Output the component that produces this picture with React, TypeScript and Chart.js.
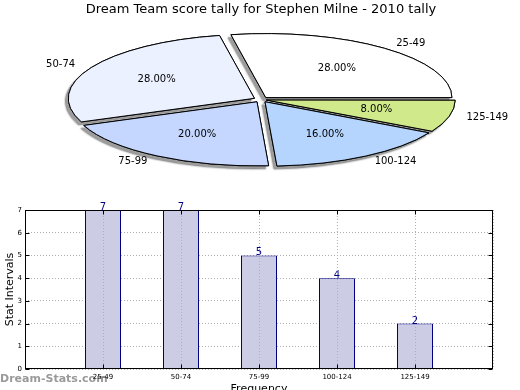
import React, { useEffect, useRef } from 'react';
import { Chart, registerables } from 'chart.js';

Chart.register(...registerables);

// ---- data ----
const chartTitle = 'Dream Team score tally for Stephen Milne - 2010 tally';
const categories = ['25-49', '50-74', '75-99', '100-124', '125-149'];
const counts = [7, 7, 5, 4, 2];
const pieColors = ['#ffffff', '#ebf1fe', '#c5d7fe', '#b5d5fe', '#cfe98b'];
const yTicks = [0, 1, 2, 3, 4, 5, 6, 7];
const xAxisTitle = 'Frequency';
const yAxisTitle = 'Stat Intervals';
const watermark = 'Dream-Stats.com';

const FONT = "'DejaVu Sans', 'Liberation Sans', sans-serif";
const SQUASH = 0.344;
const EXPLODE = 30; // chart.js offset (translation = offset / 4)

const total = counts.reduce((a, b) => a + b, 0);
// chart.js draws clockwise; matplotlib draws counter-clockwise from 3 o'clock
const pieLabels = [...categories].reverse();
const pieValues = [...counts].reverse();
const pieBg = [...pieColors].reverse();
const pieOffsets = [22, EXPLODE, EXPLODE, EXPLODE, EXPLODE];

const ellipsePlugin = {
  id: 'ellipsePie',
  beforeDatasetsDraw(chart: any) {
    const ctx = chart.ctx as any;
    const meta = chart.getDatasetMeta(0);
    const a0 = meta.data[0];
    const cx = a0.x, cy = a0.y;
    ctx.save();
    const base = ctx.getTransform();
    ctx.translate(cx, cy);
    ctx.scale(1, SQUASH);
    ctx.translate(-cx, -cy);
    const proto = CanvasRenderingContext2D.prototype.stroke;
    ctx.stroke = function (...args: any[]) {
      this.save();
      this.setTransform(base);
      proto.apply(this, args);
      this.restore();
    };
    // shadow pass
    ctx.save();
    ctx.shadowColor = 'rgba(40,40,40,0.45)';
    ctx.shadowOffsetX = -3;
    ctx.shadowOffsetY = 3;
    ctx.shadowBlur = 1.5;
    meta.data.forEach((arc: any) => arc.draw(ctx));
    ctx.restore();
  },
  afterDatasetsDraw(chart: any) {
    const ctx = chart.ctx as any;
    delete ctx.stroke;
    ctx.restore();
    const meta = chart.getDatasetMeta(0);
    ctx.save();
    ctx.fillStyle = '#000';
    ctx.font = `10px ${FONT}`;
    ctx.textBaseline = 'middle';
    meta.data.forEach((arc: any, i: number) => {
      const { x, y, startAngle, endAngle, outerRadius } = arc.getProps(
        ['x', 'y', 'startAngle', 'endAngle', 'outerRadius'],
        true
      );
      const mid = (startAngle + endAngle) / 2;
      const off = EXPLODE / 4;
      const c = Math.cos(mid), s = Math.sin(mid);
      const rp = outerRadius * 0.6 + off;
      ctx.textAlign = 'center';
      const pct = ((pieValues[i] / total) * 100).toFixed(2) + '%';
      ctx.fillText(pct, x + rp * c, y + SQUASH * rp * s);
      const rl = outerRadius * 1.1 + off;
      ctx.textAlign = c > 0 ? 'left' : 'right';
      ctx.fillText(pieLabels[i], x + rl * c, y + SQUASH * rl * s);
    });
    ctx.restore();
  },
};

const barExtras = {
  id: 'barExtras',
  beforeDraw(chart: any) {
    const ctx = chart.ctx;
    ctx.save();
    ctx.fillStyle = '#9a9a9a';
    ctx.font = `bold 11px ${FONT}`;
    ctx.textAlign = 'left';
    ctx.textBaseline = 'alphabetic';
    ctx.fillText(watermark, 0, 187);
    ctx.restore();
  },
  afterDatasetsDraw(chart: any) {
    const ctx = chart.ctx;
    const meta = chart.getDatasetMeta(0);
    ctx.save();
    ctx.fillStyle = '#000080';
    ctx.font = `10px ${FONT}`;
    ctx.textAlign = 'center';
    ctx.textBaseline = 'alphabetic';
    meta.data.forEach((bar: any, i: number) => {
      const v = chart.data.datasets[0].data[i];
      if (v === null || v === undefined) return;
      ctx.fillText(String(v), bar.x, bar.y);
    });
    ctx.restore();
  },
  afterDraw(chart: any) {
    const ctx = chart.ctx;
    const { left, right, top, bottom } = chart.chartArea;
    ctx.save();
    ctx.strokeStyle = '#000';
    ctx.lineWidth = 1;
    const L = Math.round(left) + 0.5, R = Math.round(right) - 0.5;
    const T = Math.round(top) + 0.5, B = Math.round(bottom) - 0.5;
    ctx.strokeRect(L, T, R - L, B - T);
    ctx.beginPath();
    const ys = chart.scales.y;
    ys.ticks.forEach((t: any) => {
      const py = Math.round(ys.getPixelForValue(t.value)) + 0.5;
      ctx.moveTo(L, py); ctx.lineTo(L + 4, py);
      ctx.moveTo(R, py); ctx.lineTo(R - 4, py);
    });
    const xs = chart.scales.x;
    chart.data.labels.forEach((lab: string, i: number) => {
      if (!lab) return;
      const px = Math.round(xs.getPixelForValue(i)) + 0.5;
      ctx.moveTo(px, B); ctx.lineTo(px, B - 4);
      ctx.moveTo(px, T); ctx.lineTo(px, T + 4);
    });
    ctx.stroke();
    ctx.restore();
  },
};

export default function App() {
  const pieRef = useRef<HTMLCanvasElement>(null);
  const barRef = useRef<HTMLCanvasElement>(null);

  useEffect(() => {
    const pie = new Chart(pieRef.current as HTMLCanvasElement, {
      type: 'pie',
      data: {
        labels: pieLabels,
        datasets: [
          {
            data: pieValues,
            backgroundColor: pieBg,
            borderColor: '#000',
            borderWidth: 1,
            borderJoinStyle: 'miter',
            offset: pieOffsets,
            clip: false,
            rotation: 90,
            radius: 186,
          } as any,
        ],
      },
      options: {
        animation: false,
        responsive: false,
        rotation: 90,
        radius: 186,
        layout: { padding: { left: 2, right: 0, top: 0, bottom: 3.6 } },
        plugins: {
          legend: { display: false },
          tooltip: { enabled: false },
          title: {
            display: true,
            text: chartTitle,
            color: '#000',
            font: { family: FONT, size: 13, weight: 'normal' },
            padding: { top: 2.2, bottom: 0 },
          },
        },
      } as any,
      plugins: [ellipsePlugin],
    });

    const bar = new Chart(barRef.current as HTMLCanvasElement, {
      type: 'bar',
      data: {
        labels: ['', ...categories, ''],
        datasets: [
          {
            data: [null, ...counts, null],
            backgroundColor: '#cccce5',
            borderColor: '#000080',
            borderWidth: 1,
            barPercentage: 0.4615,
            categoryPercentage: 1,
          } as any,
        ],
      },
      options: {
        animation: false,
        responsive: false,
        layout: { padding: { left: 0, right: 27, top: 15, bottom: 0 } },
        plugins: { legend: { display: false }, tooltip: { enabled: false } },
        scales: {
          x: {
            type: 'category',
            offset: false,
            grid: { offset: false, color: '#b0b0b0', drawTicks: false, z: 1 },
            border: { display: false, dash: [1, 2] },
            ticks: {
              font: { family: FONT, size: 7 },
              color: '#000',
              padding: 4,
              maxRotation: 0,
              autoSkip: false,
            },
            title: {
              display: true,
              text: xAxisTitle,
              color: '#000',
              font: { family: FONT, size: 11 },
              padding: { top: 0, bottom: 4.4 },
            },
            afterFit: (s: any) => { s.height = 31; },
          },
          y: {
            min: yTicks[0],
            max: yTicks[yTicks.length - 1],
            grid: { color: '#b0b0b0', drawTicks: false },
            border: { display: false, dash: [1, 2] },
            ticks: {
              stepSize: 1,
              font: { family: FONT, size: 7 },
              color: '#000',
              padding: 3,
            },
            title: {
              display: true,
              text: yAxisTitle,
              color: '#000',
              font: { family: FONT, size: 11 },
              padding: { top: 3.4, bottom: 0 },
            },
            afterFit: (s: any) => { s.width = 25; },
          },
        },
      } as any,
      plugins: [barExtras],
    });

    return () => {
      pie.destroy();
      bar.destroy();
    };
  }, []);

  return (
    <div
      style={{
        position: 'fixed',
        left: 0,
        top: 0,
        width: 520,
        height: 390,
        overflow: 'hidden',
        background: '#fff',
      }}
    >
      <canvas
        ref={pieRef}
        width={520}
        height={185}
        style={{ position: 'absolute', left: 0, top: 0, width: 520, height: 185 }}
      />
      <canvas
        ref={barRef}
        width={520}
        height={205}
        style={{ position: 'absolute', left: 0, top: 195, width: 520, height: 205 }}
      />
    </div>
  );
}
